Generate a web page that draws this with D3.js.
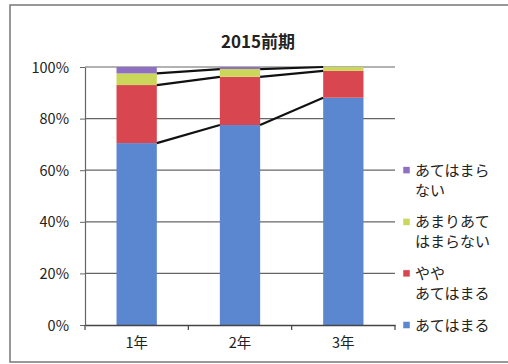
<!DOCTYPE html>
<html><head><meta charset="utf-8">
<script src="https://cdn.jsdelivr.net/npm/d3@7"></script>
<style>body{margin:0;background:#fff}svg{display:block}text{font-family:"Noto Sans CJK JP","Noto Sans",sans-serif;fill:#222}</style>
</head><body><svg id="c" width="508" height="364"></svg>
<script>
const categories = ["1年","2年","3年"];
const seriesNames = ["あてはまる","やや\nあてはまる","あまりあて\nはまらない","あてはまら\nない"];
const seriesColors = ["#5b86d0","#d8464f","#cbd75a","#8f6fc2"];
const v1 = [70.5, 22.5, 4.5, 2.5];
const v2 = [77.5, 18.7, 3.0, 0.8];
const v3 = [88.1, 10.4, 1.5, 0.0];
const yTicks = [0,20,40,60,80,100];
const title = "2015前期";

const values = [v1,v2,v3];
const svg = d3.select("#c");
const L=85,R=395,T=67,B=325;
svg.append("rect").attr("x",10).attr("y",5).attr("width",520).attr("height",357)
  .attr("fill","#fff").attr("stroke","#777").attr("stroke-width",1.5);
const x = d3.scaleBand().domain(categories).range([L,R]).paddingInner(0.61).paddingOuter(0.305);
const y = d3.scaleLinear().domain([0,100]).range([B,T]);

svg.append("text").attr("x",258).attr("y",48).attr("text-anchor","middle")
  .attr("font-size",17).attr("font-weight","bold").text(title);

// gridlines
svg.append("g").selectAll("line").data(yTicks.filter(d=>d>0)).join("line")
  .attr("x1",L).attr("x2",R).attr("y1",d=>y(d)).attr("y2",d=>y(d))
  .attr("stroke","#666").attr("stroke-width",1.2);

// stacked data
const table = categories.map((c,i)=>{const o={cat:c}; seriesNames.forEach((s,j)=>o[s]=values[i][j]); return o;});
const stack = d3.stack().keys(seriesNames)(table);
svg.append("g").selectAll("g").data(stack).join("g").attr("fill",(d,i)=>seriesColors[i])
  .selectAll("rect").data(d=>d).join("rect")
  .attr("x",d=>x(d.data.cat)).attr("width",x.bandwidth())
  .attr("y",d=>y(d[1])).attr("height",d=>y(d[0])-y(d[1]));

// series lines
stack.slice(0,3).forEach(s=>{
  for(let i=0;i<s.length-1;i++){
    svg.append("line").attr("x1",x(categories[i])+x.bandwidth()).attr("y1",y(s[i][1]))
      .attr("x2",x(categories[i+1])).attr("y2",y(s[i+1][1]))
      .attr("stroke","#111").attr("stroke-width",2.2);
  }
});

// y axis
const ya = svg.append("g").attr("transform",`translate(${L},0)`)
  .call(d3.axisLeft(y).tickValues(yTicks).tickFormat(d=>d+"%").tickSize(5).tickSizeOuter(0));
ya.select(".domain").attr("stroke","#666").attr("stroke-width",1.2);
ya.selectAll(".tick line").attr("stroke","#666");
ya.selectAll("text").attr("font-size",14.5).attr("x",-16).attr("dy","0.35em").style("fill","#222");

// x axis
const xa = svg.append("g").attr("transform",`translate(0,${B})`)
  .call(d3.axisBottom(x).tickSize(0).tickSizeOuter(0));
xa.select(".domain").attr("stroke","#444").attr("stroke-width",1.5);
xa.selectAll("text").attr("font-size",14.5).attr("dy","1.35em").style("fill","#222");
const bstep = x.step();
svg.append("g").selectAll("line").data(d3.range(categories.length+1)).join("line")
  .attr("x1",d=>L+d*bstep).attr("x2",d=>L+d*bstep).attr("y1",B).attr("y2",B+5)
  .attr("stroke","#444").attr("stroke-width",1.2);

// legend
const legY = [0,20,40,60].map(v=>y(v));
const leg = svg.append("g");
seriesNames.forEach((s,i)=>{
  const yy = legY[i];
  const g = leg.append("g");
  g.append("rect").attr("x",403).attr("y",yy-3.5).attr("width",7).attr("height",7)
    .attr("fill",seriesColors[i]).attr("stroke","#fff").attr("stroke-width",0.5);
  s.split("\n").forEach((t,k)=>{
    g.append("text").attr("x",415).attr("y",yy+5.5+k*20).attr("font-size",15).text(t);
  });
});
</script></body></html>
